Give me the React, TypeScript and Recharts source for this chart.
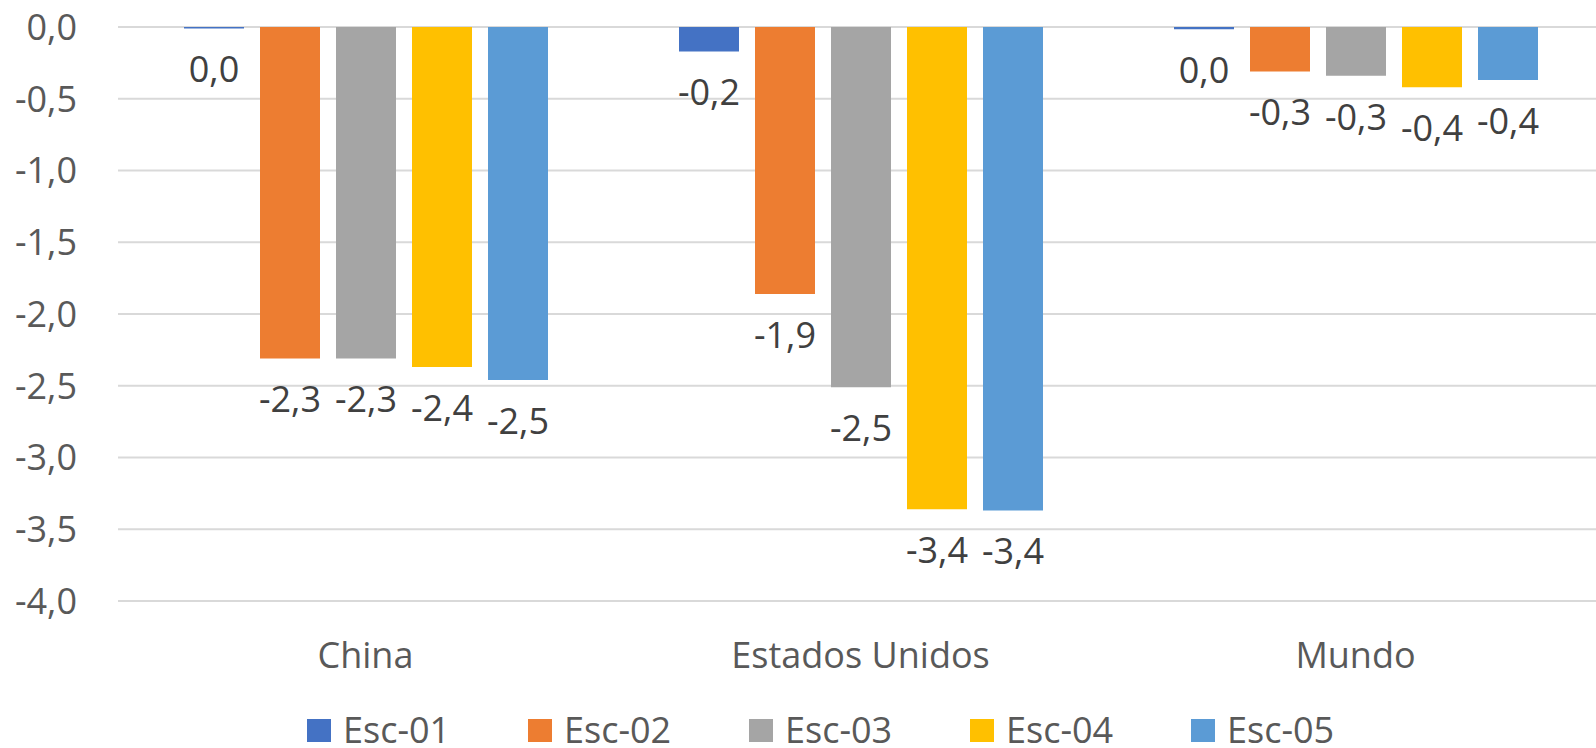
import React from 'react';
import { BarChart, Bar, XAxis, YAxis, CartesianGrid, LabelList } from 'recharts';

const categories = ['China', 'Estados Unidos', 'Mundo'];
const seriesNames = ['Esc-01', 'Esc-02', 'Esc-03', 'Esc-04', 'Esc-05'];
const seriesColors = ['#4472C4', '#ED7D31', '#A5A5A5', '#FFC000', '#5B9BD5'];
const esc01 = [-0.01, -0.17, -0.015];
const esc02 = [-2.31, -1.86, -0.31];
const esc03 = [-2.31, -2.51, -0.34];
const esc04 = [-2.37, -3.36, -0.42];
const esc05 = [-2.46, -3.37, -0.37];
const yTicks = [0, -0.5, -1, -1.5, -2, -2.5, -3, -3.5, -4];

const seriesValues = [esc01, esc02, esc03, esc04, esc05];
const data = categories.map((c, i) => {
  const row: Record<string, any> = { name: c };
  seriesNames.forEach((s, j) => {
    row[s] = seriesValues[j][i];
  });
  return row;
});

const FONT = "'Open Sans', sans-serif";

const fmt = (v: number) => {
  let r = Math.round(v * 10) / 10;
  if (Math.abs(r) < 1e-9) r = 0;
  return r.toFixed(1).replace('.', ',');
};

const renderLabel = (props: any) => {
  const { x, y, width, height, value } = props;
  const end = Math.max(Number(y), Number(y) + Number(height));
  return (
    <text
      x={Number(x) + Number(width) / 2}
      y={end + 41}
      dy="0.357em"
      textAnchor="middle"
      fill="#404040"
      fontSize={36}
      fontFamily={FONT}
    >
      {fmt(Number(value))}
    </text>
  );
};

export default function App() {
  return (
    <div
      style={{
        position: 'absolute',
        left: 0,
        top: 0,
        width: 1596,
        height: 748,
        overflow: 'hidden',
        background: '#fff',
      }}
    >
      <BarChart
        width={1603}
        height={748}
        data={data}
        margin={{ top: 27, right: 0, bottom: 87, left: 0 }}
        barSize={60}
        barGap={16}
      >
        <CartesianGrid vertical={false} stroke="#d9d9d9" strokeWidth={2} />
        <XAxis
          dataKey="name"
          axisLine={false}
          tickLine={false}
          tickSize={0}
          tickMargin={41}
          height={60}
          interval={0}
          tick={{ fill: '#595959', fontSize: 36, fontFamily: FONT }}
        />
        <YAxis
          type="number"
          domain={[-4, 0]}
          ticks={yTicks}
          width={118}
          axisLine={false}
          tickLine={false}
          tickSize={0}
          tickMargin={41}
          interval={0}
          tickFormatter={(v: number) => fmt(v)}
          tick={{ fill: '#595959', fontSize: 36, fontFamily: FONT }}
        />
        {seriesNames.map((s, i) => (
          <Bar key={s} dataKey={s} fill={seriesColors[i]} isAnimationActive={false}>
            <LabelList dataKey={s} content={renderLabel} />
          </Bar>
        ))}
      </BarChart>
      {seriesNames.map((s, i) => (
        <div
          key={s}
          style={{
            position: 'absolute',
            left: 307 + i * 221,
            top: 712,
            height: 36,
            display: 'flex',
            alignItems: 'center',
            fontFamily: FONT,
            fontSize: 36,
            lineHeight: '36px',
            color: '#595959',
            whiteSpace: 'nowrap',
          }}
        >
          <div style={{ width: 24, height: 23, background: seriesColors[i], marginRight: 12 }} />
          <span style={{ lineHeight: '36px' }}>{s}</span>
        </div>
      ))}
    </div>
  );
}
